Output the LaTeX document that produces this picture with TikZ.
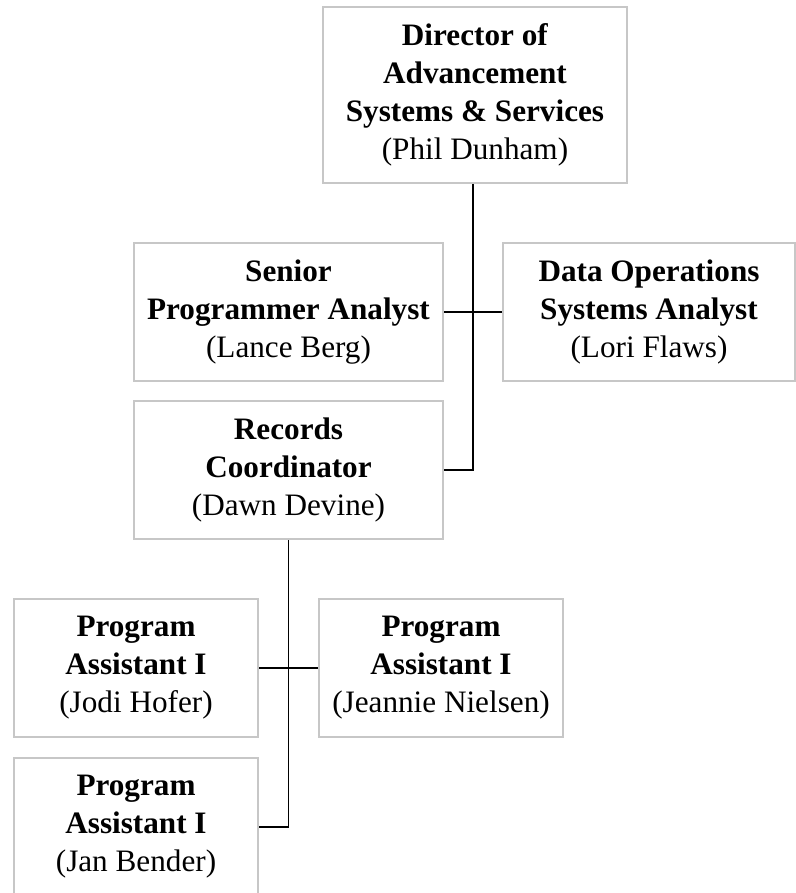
\documentclass[tikz,border=0pt]{standalone}
\usepackage{fontspec}
\setmainfont{Liberation Serif}
\usetikzlibrary{calc}

\tikzset{
    orgbox/.style={draw=black!22, line width=1pt, align=center, inner sep=0pt,
        font=\fontsize{15.6}{19}\selectfont},
    tierA/.style={orgbox, minimum height=88pt},
    tierB/.style={orgbox, minimum height=69pt},
    link/.style={draw=black, line width=0.7pt}
}

\begin{document}
\begin{tikzpicture}[x=0.5pt,y=-0.5pt]
                \clip (0,0) rectangle (796,893);

                \node[tierA, minimum width=152pt] (dir) at (475,95)
                    {\textbf{Director of}\\\textbf{Advancement}\\\textbf{Systems \& Services}\\(Phil Dunham)};

                \node[tierB, minimum width=154.5pt] (sen) at (288.5,312)
                    {\textbf{Senior}\\\textbf{Programmer Analyst}\\(Lance Berg)};
                \node[tierB, minimum width=146pt] (ops) at (649,312)
                    {\textbf{Data Operations}\\\textbf{Systems Analyst}\\(Lori Flaws)};
                \node[tierB, minimum width=154.5pt] (rec) at (288.5,470)
                    {\textbf{Records}\\\textbf{Coordinator}\\(Dawn Devine)};

                \node[tierB, minimum width=122pt] (jodi) at (136,668)
                    {\textbf{Program}\\\textbf{Assistant I}\\(Jodi Hofer)};
                \node[tierB, minimum width=122pt] (jea) at (441,668)
                    {\textbf{Program}\\\textbf{Assistant I}\\(Jeannie Nielsen)};
                \node[tierB, minimum width=122pt] (jan) at (136,827)
                    {\textbf{Program}\\\textbf{Assistant I}\\(Jan Bender)};

                \draw[link] ([xshift=-1pt]dir.south) |- (rec.east);
                \draw[link] (sen.east) -- (ops.west);
                \draw[link] (rec.south) |- (jan.east);
                \draw[link] (jodi.east) -- (jea.west);
            \end{tikzpicture}
\end{document}
